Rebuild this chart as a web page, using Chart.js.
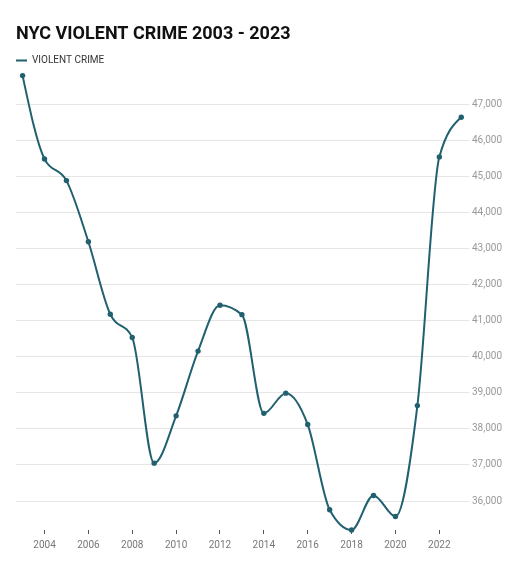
<!DOCTYPE html>
<html>
<head>
<meta charset="utf-8">
<script src="https://cdn.jsdelivr.net/npm/chart.js@4"></script>
<style>
  html, body { margin: 0; padding: 0; background: #fff; }
  #wrap { width: 524px; height: 563px; position: relative; }
</style>
</head>
<body>
<div id="wrap"><canvas id="chart"></canvas></div>
<script>
// Datos
const years = [2003, 2004, 2005, 2006, 2007, 2008, 2009, 2010, 2011, 2012, 2013,
               2014, 2015, 2016, 2017, 2018, 2019, 2020, 2021, 2022, 2023];
const violentCrime = [47790, 45480, 44880, 43185, 41175, 40530, 37050, 38360, 40155, 41425, 41165,
                      38430, 38990, 38120, 35760, 35197, 36155, 35573, 38645, 45537, 46637];
const xTickYears = [2004, 2006, 2008, 2010, 2012, 2014, 2016, 2018, 2020, 2022];
const yTickValues = [36000, 37000, 38000, 39000, 40000, 41000, 42000, 43000, 44000, 45000, 46000, 47000];

const lineColor = '#21606f';

// La leyenda queda alineada con el título (quita el padding horizontal inicial)
const legendShift = {
    id: 'legendShift',
    afterLayout(chart) {
        if (chart.legend) {
            chart.legend.left -= 6;
        }
    }
};

// Curva monótona en X (mismas tangentes que el gráfico original)
function sign(v) { return v < 0 ? -1 : 1; }
function slope3(a, b, c) {
    const h0 = b.x - a.x, h1 = c.x - b.x;
    const s0 = (b.y - a.y) / h0, s1 = (c.y - b.y) / h1;
    const p = (s0 * h1 + s1 * h0) / (h0 + h1);
    return (sign(s0) + sign(s1)) * Math.min(Math.abs(s0), Math.abs(s1), 0.5 * Math.abs(p)) || 0;
}
function slope2(a, b, t) {
    const h = b.x - a.x;
    return h ? (3 * (b.y - a.y) / h - t) / 2 : t;
}
const monotoneX = {
    id: 'monotoneX',
    beforeDatasetDraw(chart, args) {
        const meta = args.meta;
        const pts = meta.data;
        const n = pts.length;
        if (n < 3) return;
        const t = new Array(n);
        for (let i = 1; i < n - 1; i++) t[i] = slope3(pts[i - 1], pts[i], pts[i + 1]);
        t[0] = slope2(pts[0], pts[1], t[1]);
        t[n - 1] = slope2(pts[n - 2], pts[n - 1], t[n - 2]);
        for (let i = 0; i < n; i++) {
            const p = pts[i];
            p.cp1x = p.x; p.cp1y = p.y; p.cp2x = p.x; p.cp2y = p.y;
            if (i > 0) {
                const dx = (p.x - pts[i - 1].x) / 3;
                p.cp1x = p.x - dx; p.cp1y = p.y - dx * t[i];
            }
            if (i < n - 1) {
                const dx = (pts[i + 1].x - p.x) / 3;
                p.cp2x = p.x + dx; p.cp2y = p.y + dx * t[i];
            }
        }
        meta.dataset._pointsUpdated = true;
    }
};

const ctx = document.getElementById('chart').getContext('2d');

new Chart(ctx, {
    type: 'line',
    data: {
        datasets: [{
            label: 'VIOLENT CRIME',
            data: years.map((y, i) => ({ x: y, y: violentCrime[i] })),
            borderColor: lineColor,
            backgroundColor: lineColor,
            borderWidth: 2,
            tension: 0.4,
            pointRadius: 2.7,
            pointBorderWidth: 0,
            clip: false
        }]
    },
    options: {
        responsive: true,
        maintainAspectRatio: false,
        animation: false,
        layout: { padding: { left: 16, right: 19, top: 12, bottom: 7 } },
        plugins: {
            title: {
                display: true,
                text: 'NYC VIOLENT CRIME 2003 - 2023',
                align: 'start',
                color: '#111',
                font: { family: 'Roboto', size: 18, weight: 'bold' },
                padding: { top: 12, bottom: 4 }
            },
            legend: {
                align: 'start',
                labels: {
                    boxWidth: 11,
                    boxHeight: 0,
                    color: '#333',
                    font: { family: 'Roboto', size: 10 },
                    padding: 6
                }
            },
            tooltip: { enabled: false }
        },
        scales: {
            x: {
                type: 'linear',
                min: 2002.7,
                max: 2023.35,
                grid: { drawOnChartArea: false, drawTicks: true, tickLength: 4, color: '#555' },
                border: { display: false },
                afterBuildTicks: axis => { axis.ticks = xTickYears.map(v => ({ value: v })); },
                ticks: {
                    color: '#777',
                    font: { family: 'Roboto', size: 10 },
                    padding: 5,
                    maxRotation: 0,
                    callback: v => String(v)
                }
            },
            y: {
                position: 'right',
                bounds: 'data',
                grid: { color: '#e6e6e6', drawTicks: false },
                border: { display: false },
                afterBuildTicks: axis => { axis.ticks = yTickValues.map(v => ({ value: v })); },
                ticks: {
                    color: '#999',
                    font: { family: 'Roboto', size: 10 },
                    padding: 3,
                    callback: v => v.toLocaleString('en-US')
                }
            }
        }
    },
    plugins: [legendShift, monotoneX]
});
</script>
</body>
</html>
